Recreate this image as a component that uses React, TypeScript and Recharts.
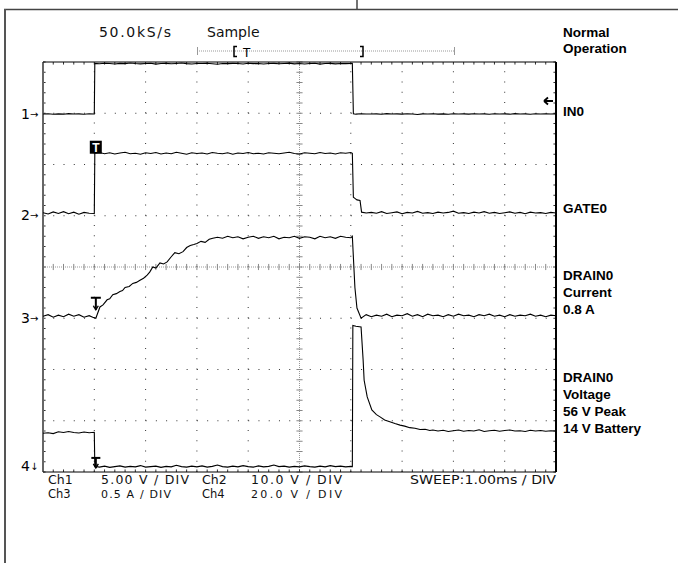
import React from 'react';
import { LineChart, Line, XAxis, YAxis, ReferenceLine, ReferenceDot } from 'recharts';

type P = [number, number];

// Horizontal: 1.00 ms / DIV, 10 divisions
const timeTicks = [0, 1, 2, 3, 4, 5, 6, 7, 8, 9, 10];
// Vertical: 8 divisions
const divTicks = [0, 1, 2, 3, 4, 5, 6, 7, 8];

// Channel settings: volts (or amps) per division and ground position in divisions
const ch1Setting = { perDiv: 5, groundDiv: 7 };
const ch2Setting = { perDiv: 10, groundDiv: 5 };
const ch3Setting = { perDiv: 0.5, groundDiv: 3 };
const ch4Setting = { perDiv: 20, groundDiv: 0.09 };

// Ch1 IN0 (V) vs time (ms)
const in0Volts: P[] = [
  [0, -0.08], [0.1, -0.05], [0.2, -0.1], [0.3, -0.06], [0.4, -0.09], [0.5, -0.04], [0.6, -0.08], [0.7, -0.06], [0.8, -0.1], [0.9, -0.05], [1.0, -0.07],
  [1.01, 4.86], [1.1, 4.83], [1.2, 4.88], [1.3, 4.85], [1.4, 4.8], [1.5, 4.87], [1.6, 4.84], [1.7, 4.9], [1.8, 4.85], [1.9, 4.82], [2.0, 4.86],
  [2.1, 4.88], [2.2, 4.79], [2.3, 4.85], [2.4, 4.87], [2.5, 4.83], [2.6, 4.86], [2.7, 4.9], [2.8, 4.84], [2.9, 4.8], [3.0, 4.86],
  [3.1, 4.85], [3.2, 4.88], [3.3, 4.83], [3.4, 4.78], [3.5, 4.86], [3.6, 4.84], [3.7, 4.87], [3.8, 4.85], [3.9, 4.81], [4.0, 4.88],
  [4.1, 4.84], [4.2, 4.86], [4.3, 4.8], [4.4, 4.85], [4.5, 4.87], [4.6, 4.83], [4.7, 4.86], [4.8, 4.89], [4.9, 4.82], [5.0, 4.85],
  [5.1, 4.81], [5.2, 4.86], [5.3, 4.88], [5.4, 4.79], [5.5, 4.85], [5.6, 4.87], [5.7, 4.82], [5.8, 4.86], [5.9, 4.84], [6.0, 4.85], [6.03, 4.86],
  [6.05, -0.06], [6.1, -0.09], [6.2, -0.05], [6.3, -0.08], [6.4, -0.07], [6.5, -0.06], [6.6, -0.1], [6.7, -0.04], [6.8, -0.08], [6.9, -0.06], [7.0, -0.09],
  [7.1, -0.05], [7.2, -0.07], [7.3, -0.12], [7.4, -0.06], [7.5, -0.08], [7.6, -0.05], [7.7, -0.09], [7.8, -0.06], [7.9, -0.1], [8.0, -0.05],
  [8.1, -0.07], [8.2, -0.06], [8.3, -0.09], [8.4, -0.05], [8.5, -0.08], [8.6, -0.06], [8.7, -0.1], [8.8, -0.05], [8.9, -0.07], [9.0, -0.06],
  [9.1, -0.09], [9.2, -0.04], [9.3, -0.08], [9.4, -0.06], [9.5, -0.1], [9.6, -0.05], [9.7, -0.07], [9.8, -0.06], [9.9, -0.08], [10, -0.06],
];

// Ch2 GATE0 (V)
const gate0Volts: P[] = [
  [0, 0.6], [0.1, 0.35], [0.2, 0.75], [0.3, 0.45], [0.4, 0.8], [0.5, 0.4], [0.6, 0.7], [0.7, 0.3], [0.8, 0.65], [0.9, 0.5], [1.0, 0.45],
  [1.01, 12.2], [1.1, 12.35], [1.2, 12.1], [1.3, 12.3], [1.4, 12.05], [1.5, 12.25], [1.6, 12.4], [1.7, 12.1], [1.8, 12.2], [1.9, 12.0], [2.0, 12.3],
  [2.1, 12.15], [2.2, 12.35], [2.3, 12.05], [2.4, 12.25], [2.5, 12.1], [2.6, 12.4], [2.7, 12.2], [2.8, 12.0], [2.9, 12.3], [3.0, 12.15],
  [3.1, 12.25], [3.2, 12.05], [3.3, 12.35], [3.4, 12.2], [3.5, 12.1], [3.6, 12.3], [3.7, 12.0], [3.8, 12.25], [3.9, 12.15], [4.0, 12.35],
  [4.1, 12.1], [4.2, 12.2], [4.3, 12.05], [4.4, 12.3], [4.5, 12.2], [4.6, 12.1], [4.7, 12.25], [4.8, 12.4], [4.9, 12.15], [5.0, 12.05],
  [5.1, 12.3], [5.2, 12.2], [5.3, 12.1], [5.4, 12.35], [5.5, 12.15], [5.6, 12.25], [5.7, 12.05], [5.8, 12.3], [5.9, 12.2], [6.0, 12.35], [6.03, 12.2],
  [6.05, 3.6], [6.08, 3.4], [6.12, 3.1], [6.18, 3.0], [6.21, 0.7], [6.3, 0.55], [6.4, 0.65], [6.5, 0.5], [6.6, 0.8], [6.7, 0.45], [6.8, 0.6], [6.9, 0.75], [7.0, 0.4],
  [7.1, 0.65], [7.2, 0.55], [7.3, 0.85], [7.4, 0.5], [7.5, 0.6], [7.6, 0.45], [7.7, 0.7], [7.8, 0.55], [7.9, 0.65], [8.0, 0.9],
  [8.1, 0.5], [8.2, 0.6], [8.3, 0.45], [8.4, 0.7], [8.5, 0.55], [8.6, 0.8], [8.7, 0.5], [8.8, 0.65], [8.9, 0.45], [9.0, 0.6],
  [9.1, 0.75], [9.2, 0.5], [9.3, 0.65], [9.4, 0.4], [9.5, 0.7], [9.6, 0.55], [9.7, 0.6], [9.8, 0.45], [9.9, 0.65], [10, 0.55],
];

// Ch3 DRAIN0 current (A)
const drainCurrent: P[] = [
  [0, 0.02], [0.1, 0.035], [0.2, 0.01], [0.3, 0.03], [0.4, 0.015], [0.5, 0.04], [0.6, 0.02], [0.7, 0.035], [0.8, 0.01], [0.9, 0.025], [0.97, 0.01], [1.03, 0.0],
  [1.11, 0.11], [1.17, 0.13], [1.25, 0.18], [1.3, 0.19], [1.36, 0.23], [1.43, 0.24], [1.5, 0.26], [1.55, 0.27], [1.6, 0.3], [1.68, 0.31],
  [1.75, 0.34], [1.82, 0.35], [1.89, 0.37], [1.96, 0.39], [2.03, 0.42], [2.08, 0.45], [2.14, 0.5], [2.2, 0.49], [2.28, 0.54], [2.35, 0.53],
  [2.42, 0.55], [2.5, 0.6], [2.57, 0.64], [2.65, 0.63], [2.73, 0.65], [2.8, 0.69], [2.87, 0.71], [2.94, 0.72], [3.0, 0.73], [3.08, 0.75],
  [3.16, 0.74], [3.24, 0.77], [3.31, 0.78],
  [3.4, 0.79], [3.5, 0.78], [3.6, 0.8], [3.7, 0.785], [3.8, 0.795], [3.9, 0.775], [4.0, 0.79], [4.1, 0.8], [4.2, 0.78], [4.3, 0.795],
  [4.4, 0.785], [4.5, 0.8], [4.6, 0.775], [4.7, 0.79], [4.8, 0.785], [4.9, 0.8], [5.0, 0.78], [5.1, 0.795], [5.2, 0.79], [5.3, 0.775],
  [5.4, 0.8], [5.5, 0.785], [5.6, 0.795], [5.7, 0.78], [5.8, 0.8], [5.9, 0.79], [6.0, 0.785], [6.03, 0.8],
  [6.08, 0.3], [6.12, 0.1], [6.2, 0.0], [6.3, 0.035], [6.4, 0.015], [6.5, 0.03], [6.6, 0.02], [6.7, 0.04], [6.8, 0.015], [6.9, 0.03], [7.0, 0.025],
  [7.1, 0.045], [7.2, 0.02], [7.3, 0.035], [7.4, 0.015], [7.5, 0.04], [7.6, 0.025], [7.7, 0.03], [7.8, 0.015], [7.9, 0.035], [8.0, 0.02],
  [8.1, 0.04], [8.2, 0.025], [8.3, 0.03], [8.4, 0.015], [8.5, 0.035], [8.6, 0.025], [8.7, 0.04], [8.8, 0.02], [8.9, 0.03], [9.0, 0.015],
  [9.1, 0.035], [9.2, 0.02], [9.3, 0.03], [9.4, 0.025], [9.5, 0.04], [9.6, 0.02], [9.7, 0.03], [9.8, 0.015], [9.9, 0.03], [10, 0.025],
];

// Ch4 DRAIN0 voltage (V)
const drainVolts: P[] = [
  [0, 13.3], [0.1, 13.5], [0.2, 13.2], [0.3, 13.9], [0.4, 13.6], [0.5, 14.0], [0.6, 13.6], [0.7, 13.4], [0.8, 13.8], [0.9, 13.5], [1.0, 13.7],
  [1.01, 0.4], [1.1, 0.1], [1.2, 0.5], [1.3, 0.0], [1.4, 0.3], [1.5, 0.6], [1.6, 0.1], [1.7, 0.4], [1.8, 0.2], [1.9, 0.7], [2.0, 0.1],
  [2.1, 0.3], [2.2, 0.5], [2.3, 0.0], [2.4, 0.4], [2.5, 0.2], [2.6, 0.8], [2.7, 0.3], [2.8, 0.1], [2.9, 0.5], [3.0, 0.2],
  [3.1, 0.6], [3.2, 0.1], [3.3, 0.4], [3.4, 0.9], [3.5, 0.3], [3.6, 0.1], [3.7, 0.5], [3.8, 0.2], [3.9, 0.7], [4.0, 0.3],
  [4.1, 0.1], [4.2, 0.6], [4.3, 0.2], [4.4, 0.4], [4.5, 0.9], [4.6, 0.3], [4.7, 0.5], [4.8, 0.1], [4.9, 0.4], [5.0, 0.2],
  [5.1, 0.6], [5.2, 0.3], [5.3, 0.1], [5.4, 0.5], [5.5, 0.2], [5.6, 0.7], [5.7, 0.3], [5.8, 0.5], [5.9, 0.2], [6.0, 0.4], [6.03, 0.3],
  [6.04, 55.4], [6.1, 55.1], [6.2, 54.8], [6.24, 42.0], [6.26, 34.0], [6.32, 27.5], [6.41, 22.4], [6.5, 20.6], [6.57, 19.7], [6.66, 18.5],
  [6.76, 17.8], [6.86, 17.1], [6.96, 16.5], [7.05, 16.1], [7.15, 15.5], [7.25, 15.3], [7.35, 14.8], [7.45, 14.9], [7.54, 14.4], [7.6, 14.6],
  [7.7, 14.2], [7.8, 14.5], [7.9, 14.0], [8.0, 14.3], [8.1, 14.6], [8.2, 14.1], [8.3, 14.4], [8.4, 14.2], [8.5, 14.7], [8.6, 14.0],
  [8.7, 14.3], [8.8, 14.5], [8.9, 14.1], [9.0, 14.4], [9.1, 14.6], [9.2, 14.2], [9.3, 14.3], [9.4, 14.0], [9.5, 14.5], [9.6, 14.2],
  [9.7, 14.4], [9.8, 14.1], [9.9, 14.3], [10, 14.2],
];

const toRows = (pts: P[]) => pts.map(([t, v]) => ({ t, v }));
const domainOf = (s: { perDiv: number; groundDiv: number }) => [-s.groundDiv * s.perDiv, (8 - s.groundDiv) * s.perDiv];

const minorX = Array.from({ length: 51 }, (_, i) => +(i * 0.2).toFixed(2));
const minorY = Array.from({ length: 41 }, (_, i) => +(i * 0.2).toFixed(2));

const TRACE = '#000';
const SANS = "'DejaVu Sans', Verdana, sans-serif";
const BOLD = "'Liberation Sans', Arial, sans-serif";

const TrigBox = (p: any) => (
  <g>
    <rect x={p.cx - 4.5} y={p.cy - 12.5} width={12} height={13} fill="#000" />
    <text x={p.cx + 1.5} y={p.cy - 1.5} fill="#fff" fontSize={12} fontWeight="bold" textAnchor="middle" fontFamily={BOLD}>T</text>
  </g>
);
const TrigT = (w: number, h: number) => (p: any) => (
  <g stroke="#000" strokeWidth={2} fill="none">
    <line x1={p.cx - w / 2} x2={p.cx + w / 2} y1={p.cy} y2={p.cy} />
    <line x1={p.cx} x2={p.cx} y1={p.cy} y2={p.cy + h} />
    <path d={`M${p.cx - 2.5},${p.cy + h - 4} L${p.cx},${p.cy + h} L${p.cx + 2.5},${p.cy + h - 4}`} strokeWidth={1.4} />
  </g>
);

export default function App() {
  const grid: React.ReactNode[] = [];
  timeTicks.slice(1, -1).forEach((x) => {
    if (x !== 5) grid.push(<ReferenceLine key={`gx${x}`} yAxisId="grid" x={x} stroke="#333" strokeDasharray="1 9.25" />);
  });
  divTicks.slice(1, -1).forEach((y) => {
    if (y !== 4) grid.push(<ReferenceLine key={`gy${y}`} yAxisId="grid" y={y} stroke="#333" strokeDasharray="1 9.26" />);
  });
  grid.push(<ReferenceLine key="cx" yAxisId="grid" x={5} stroke="#999" strokeDasharray="1 1" />);
  grid.push(<ReferenceLine key="cy" yAxisId="grid" y={4} stroke="#999" strokeDasharray="1 1" />);
  minorX.forEach((x) => {
    grid.push(<ReferenceLine key={`cxt${x}`} yAxisId="grid" segment={[{ x, y: 3.94 }, { x, y: 4.06 }]} stroke="#888" />);
    grid.push(<ReferenceLine key={`bt${x}`} yAxisId="grid" segment={[{ x, y: 0 }, { x, y: 0.05 }]} stroke="#333" />);
    grid.push(<ReferenceLine key={`tt${x}`} yAxisId="grid" segment={[{ x, y: 7.95 }, { x, y: 8 }]} stroke="#333" />);
  });
  minorY.forEach((y) => {
    grid.push(<ReferenceLine key={`cyt${y}`} yAxisId="grid" segment={[{ x: 4.94, y }, { x: 5.06, y }]} stroke="#888" />);
    grid.push(<ReferenceLine key={`lt${y}`} yAxisId="grid" segment={[{ x: 0, y }, { x: 0.05, y }]} stroke="#333" />);
    grid.push(<ReferenceLine key={`rt${y}`} yAxisId="grid" segment={[{ x: 9.95, y }, { x: 10, y }]} stroke="#333" />);
  });
  grid.push(<ReferenceLine key="bl" yAxisId="grid" x={0} stroke="#666" strokeWidth={2} />);
  grid.push(<ReferenceLine key="br" yAxisId="grid" x={10} stroke="#000" strokeWidth={2} />);
  grid.push(<ReferenceLine key="btop" yAxisId="grid" y={8} stroke="#000" />);
  grid.push(<ReferenceLine key="bbot" yAxisId="grid" y={0} stroke="#000" />);

  const rightLabel = (txt: string, y: number) => (
    <text key={txt + y} x={563} y={y} fontFamily={BOLD} fontWeight="bold" fontSize={13.5} fill="#000">{txt}</text>
  );
  const chMark = (n: string, y: number, arrow: string) => (
    <g key={n}>
      <text x={21} y={y + 5} fontFamily={SANS} fontSize={14} fill="#000">{n}</text>
      <text x={30} y={y + 4} fontFamily={SANS} fontSize={10} fill="#000">{arrow}</text>
    </g>
  );

  return (
    <div style={{ position: 'absolute', left: 0, top: 0, width: 678, height: 563, background: '#fff' }}>
      <LineChart width={678} height={563} margin={{ top: 62, left: 43, right: 122, bottom: 91 }}>
        <XAxis type="number" dataKey="t" domain={[0, 10]} ticks={timeTicks} hide allowDataOverflow />
        <YAxis yAxisId="grid" type="number" domain={[0, 8]} ticks={divTicks} hide allowDataOverflow />
        <YAxis yAxisId="ch1" type="number" domain={domainOf(ch1Setting)} hide allowDataOverflow />
        <YAxis yAxisId="ch2" type="number" domain={domainOf(ch2Setting)} hide allowDataOverflow />
        <YAxis yAxisId="ch3" type="number" domain={domainOf(ch3Setting)} hide allowDataOverflow />
        <YAxis yAxisId="ch4" type="number" domain={domainOf(ch4Setting)} hide allowDataOverflow />
        {grid}
        <Line yAxisId="ch1" data={toRows(in0Volts)} dataKey="v" type="linear" stroke={TRACE} strokeWidth={1.1} dot={false} isAnimationActive={false} />
        <Line yAxisId="ch2" data={toRows(gate0Volts)} dataKey="v" type="linear" stroke={TRACE} strokeWidth={1.1} dot={false} isAnimationActive={false} />
        <Line yAxisId="ch3" data={toRows(drainCurrent)} dataKey="v" type="linear" stroke={TRACE} strokeWidth={1.1} dot={false} isAnimationActive={false} />
        <Line yAxisId="ch4" data={toRows(drainVolts)} dataKey="v" type="linear" stroke={TRACE} strokeWidth={1.1} dot={false} isAnimationActive={false} />
        <ReferenceDot yAxisId="ch2" x={1.0} y={12.2} r={1} shape={TrigBox} />
        <ReferenceDot yAxisId="ch3" x={1.03} y={0.2} r={1} shape={TrigT(10, 12)} />
        <ReferenceDot yAxisId="ch4" x={1.03} y={3.7} r={1} shape={TrigT(9, 10)} />
      </LineChart>
      <svg width={678} height={563} style={{ position: 'absolute', left: 0, top: 0, pointerEvents: 'none' }}>
        <line x1={4} x2={678} y1={9.5} y2={9.5} stroke="#444" strokeWidth={1.5} />
        <line x1={5} x2={5} y1={9} y2={563} stroke="#555" strokeWidth={2} />
        <line x1={357} x2={357} y1={0} y2={9} stroke="#444" strokeWidth={1.5} />
        <text x={99} y={37} fontFamily={SANS} fontSize={14} fill="#111" textLength={72} lengthAdjust="spacing">50.0kS/s</text>
        <text x={207} y={37} fontFamily={SANS} fontSize={14} fill="#111">Sample</text>
        <line x1={197} x2={455} y1={51} y2={51} stroke="#999" strokeDasharray="1 1" />
        <line x1={197.5} x2={197.5} y1={47} y2={55} stroke="#999" />
        <line x1={454.5} x2={454.5} y1={47} y2={55} stroke="#999" />
        <path d="M237,46.5 H234 V56.5 H237" stroke="#000" strokeWidth={1.5} fill="none" />
        <text x={243} y={57} fontFamily={SANS} fontSize={12} fill="#000">T</text>
        <path d="M360,46.5 H363 V56.5 H360" stroke="#000" strokeWidth={1.5} fill="none" />
        {rightLabel('Normal', 37)}
        {rightLabel('Operation', 53)}
        {rightLabel('IN0', 116)}
        {rightLabel('GATE0', 213)}
        {rightLabel('DRAIN0', 280)}
        {rightLabel('Current', 297)}
        {rightLabel('0.8 A', 314)}
        {rightLabel('DRAIN0', 382)}
        {rightLabel('Voltage', 399)}
        {rightLabel('56 V Peak', 416)}
        {rightLabel('14 V Battery', 433)}
        <path d="M544,101 H553 M544,101 L548,97.5 M544,101 L548,104.5" stroke="#000" strokeWidth={1.8} fill="none" />
        {chMark('1', 114, '→')}
        {chMark('2', 215, '→')}
        {chMark('3', 318, '→')}
        {chMark('4', 466, '↓')}
        <text x={48} y={484} fontFamily={SANS} fontSize={12.5} fill="#111">Ch1</text>
        <text x={101} y={484} fontFamily={SANS} fontSize={12.5} fill="#111" textLength={88} lengthAdjust="spacing">5.00 V / DIV</text>
        <text x={202} y={484} fontFamily={SANS} fontSize={12.5} fill="#111">Ch2</text>
        <text x={251} y={484} fontFamily={SANS} fontSize={12.5} fill="#111" textLength={91} lengthAdjust="spacing">10.0 V / DIV</text>
        <text x={48} y={498} fontFamily={SANS} fontSize={11.5} fill="#111">Ch3</text>
        <text x={101} y={498} fontFamily={SANS} fontSize={11} fill="#111" textLength={70} lengthAdjust="spacing">0.5 A / DIV</text>
        <text x={202} y={498} fontFamily={SANS} fontSize={11.5} fill="#111">Ch4</text>
        <text x={251} y={498} fontFamily={SANS} fontSize={11} fill="#111" textLength={91} lengthAdjust="spacing">20.0 V / DIV</text>
        <text x={410} y={484} fontFamily={SANS} fontSize={12.5} fill="#111" textLength={146} lengthAdjust="spacingAndGlyphs">SWEEP:1.00ms / DIV</text>
      </svg>
    </div>
  );
}
